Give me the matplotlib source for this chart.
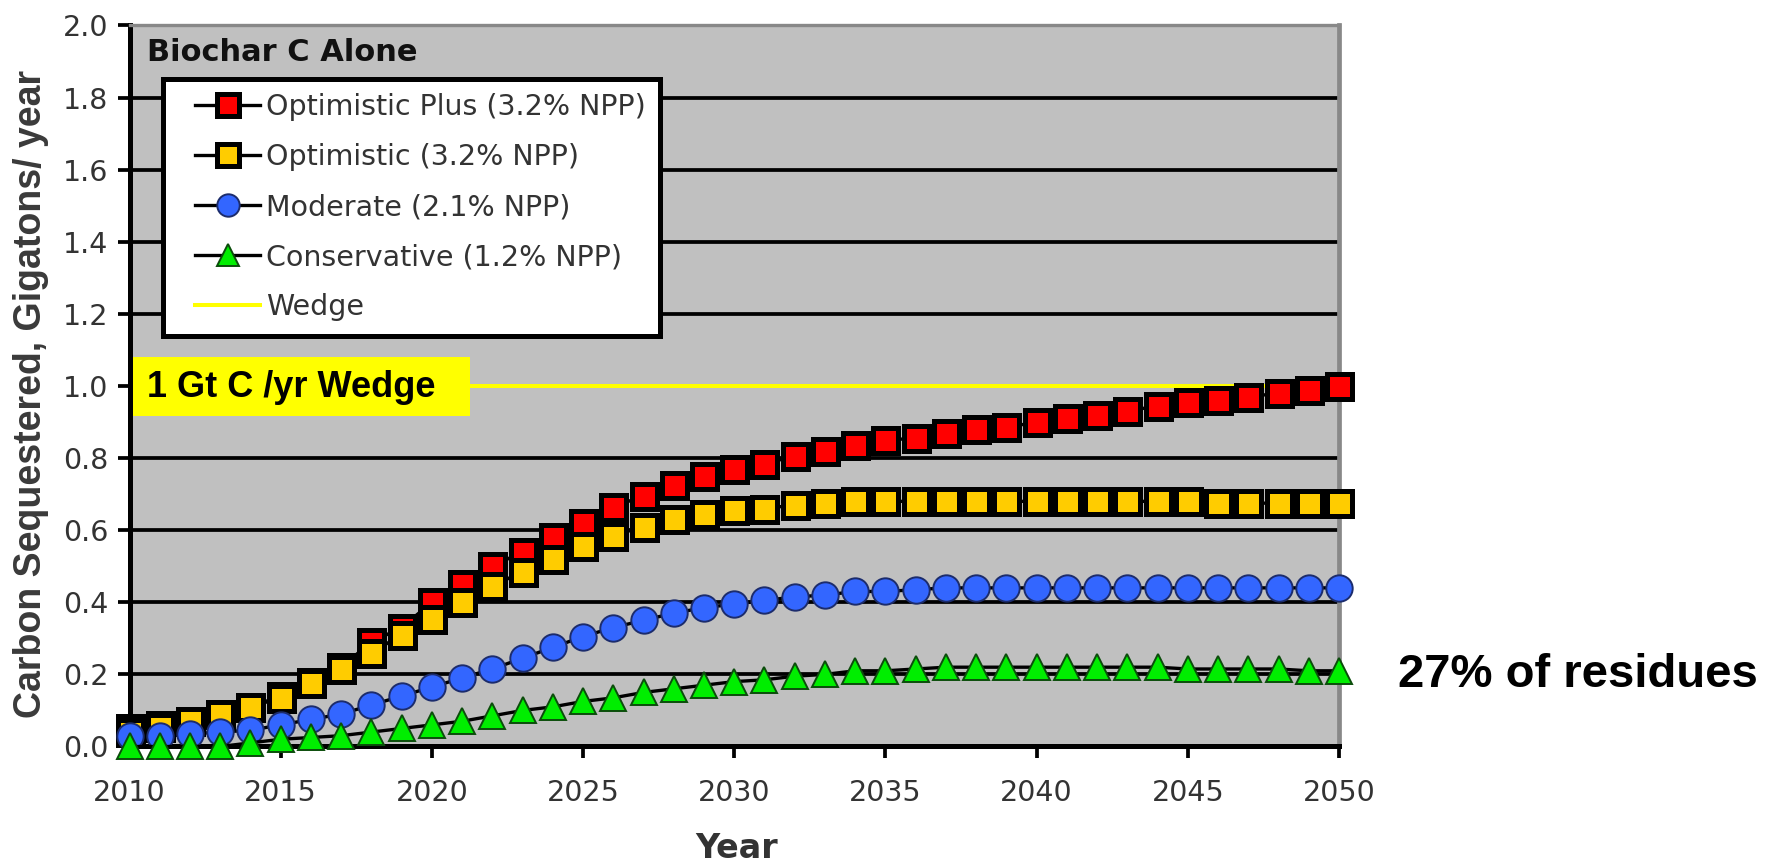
import matplotlib
matplotlib.use("Agg")
import matplotlib.pyplot as plt
from matplotlib.lines import Line2D
from matplotlib.legend_handler import HandlerLine2D
from matplotlib.patches import Rectangle

# --- data --------------------------------------------------------------
years = list(range(2010, 2051))

optimistic_plus = [0.05, 0.06, 0.07, 0.09, 0.11, 0.14, 0.18, 0.22, 0.29, 0.33,
                   0.40, 0.45, 0.50, 0.54, 0.58, 0.62, 0.665, 0.695, 0.725, 0.75,
                   0.77, 0.785, 0.805, 0.82, 0.835, 0.85, 0.855, 0.87, 0.88, 0.885,
                   0.90, 0.91, 0.92, 0.93, 0.945, 0.955, 0.96, 0.97, 0.98, 0.99,
                   1.00]
optimistic = [0.04, 0.055, 0.07, 0.09, 0.11, 0.135, 0.175, 0.215, 0.26, 0.31,
              0.355, 0.40, 0.445, 0.485, 0.52, 0.555, 0.585, 0.61, 0.63, 0.645,
              0.655, 0.66, 0.67, 0.675, 0.68, 0.68, 0.68, 0.68, 0.68, 0.68,
              0.68, 0.68, 0.68, 0.68, 0.68, 0.68, 0.675, 0.675, 0.675, 0.675,
              0.675]
moderate = [0.03, 0.03, 0.035, 0.04, 0.045, 0.06, 0.075, 0.09, 0.115, 0.14,
            0.165, 0.19, 0.215, 0.245, 0.275, 0.305, 0.33, 0.35, 0.37, 0.385,
            0.395, 0.405, 0.415, 0.42, 0.43, 0.43, 0.435, 0.44, 0.44, 0.44,
            0.44, 0.44, 0.44, 0.44, 0.44, 0.44, 0.44, 0.44, 0.44, 0.44,
            0.44]
conservative = [0.0, 0.0, 0.0, 0.0, 0.01, 0.02, 0.025, 0.03, 0.04, 0.05,
                0.06, 0.07, 0.085, 0.10, 0.11, 0.125, 0.135, 0.15, 0.16, 0.17,
                0.18, 0.185, 0.195, 0.20, 0.21, 0.21, 0.215, 0.22, 0.22, 0.22,
                0.22, 0.22, 0.22, 0.22, 0.22, 0.215, 0.215, 0.215, 0.215, 0.21,
                0.21]
wedge_level = 1.0

series_labels = ["Optimistic Plus (3.2% NPP)", "Optimistic (3.2% NPP)",
                 "Moderate (2.1% NPP)", "Conservative (1.2% NPP)"]
y_ticks = [0.0, 0.2, 0.4, 0.6, 0.8, 1.0, 1.2, 1.4, 1.6, 1.8, 2.0]
x_ticks = [2010, 2015, 2020, 2025, 2030, 2035, 2040, 2045, 2050]

# --- styles -------------------------------------------------------------
styles = [
    dict(marker="s", ms=18, mfc="#FF0000", mec="black", mew=3.6),
    dict(marker="s", ms=18, mfc="#FFCC00", mec="black", mew=3.6),
    dict(marker="o", ms=19, mfc="#3366FF", mec="#1c2c6c", mew=1.4),
    dict(marker="^", ms=19, mfc="#00EE00", mec="#0b4d0b", mew=1.4),
]
TEXT_GRAY = "#333333"

plt.rcParams["font.family"] = ["DejaVu Sans"]

fig = plt.figure(figsize=(17.84, 8.64), dpi=100, facecolor="white")
ax = fig.add_axes([0.07259, 0.1360, 0.67797, 0.8345])
ax.set_facecolor("#C0C0C0")
ax.set_xlim(2010, 2050)
ax.set_ylim(0, 2.0)

# gridlines + spines
ax.set_axisbelow(True)
ax.grid(axis="y", color="black", linewidth=2.7)
ax.grid(axis="x", visible=False)
for side in ["left", "bottom"]:
    ax.spines[side].set_color("black")
    ax.spines[side].set_linewidth(3.6)
ax.spines["top"].set_color("#888888")
ax.spines["top"].set_linewidth(2.4)
ax.spines["right"].set_color("#888888")
ax.spines["right"].set_linewidth(3.4)

ax.set_yticks(y_ticks)
ax.set_yticklabels([f"{v:.1f}" for v in y_ticks])
ax.set_xticks(x_ticks)
ax.set_xticklabels([str(v) for v in x_ticks])
ax.tick_params(axis="y", direction="out", length=8.3, width=2.7, pad=6.7,
               labelsize=20.5, labelcolor=TEXT_GRAY)
ax.tick_params(axis="x", direction="out", length=8.6, width=2.7, pad=14.5,
               labelsize=20.5, labelcolor=TEXT_GRAY)
ax.get_ygridlines()[-1].set_visible(False)

# wedge line and its label box
wedge_line = ax.axhline(wedge_level, color="#FFFF00", linewidth=2.9, zorder=2.1,
                        label="Wedge")
ax.add_patch(Rectangle((2010, 0.9168), 11.26, 0.1645, facecolor="#FFFF00",
                       edgecolor="none", zorder=2.2))
ax.text(2010.57, 0.9703, "1 Gt C /yr Wedge", fontfamily="Liberation Sans",
        fontweight="bold", fontsize=26, color="black", va="baseline",
        ha="left", zorder=2.3)

# scenario series
lines = []
for i, (vals, lab, st) in enumerate(zip(
        [optimistic_plus, optimistic, moderate, conservative], series_labels, styles)):
    ln, = ax.plot(years, vals, color="black", linewidth=2.4, label=lab,
                  clip_on=False, zorder=3 + i, **st)
    lines.append(ln)

ax.text(0.01447, 0.9512, "Biochar C Alone", transform=ax.transAxes,
        fontsize=22, fontweight="bold", color="#111111", ha="left", va="baseline")

leg = ax.legend(handles=lines + [wedge_line], loc="upper left",
                bbox_to_anchor=(163 / 1784, 1 - 78.5 / 864),
                bbox_transform=fig.transFigure, borderaxespad=0,
                fontsize=20.5, frameon=True, fancybox=False, framealpha=1,
                facecolor="white", edgecolor="black",
                borderpad=0.52, labelspacing=0.77, handlelength=2.9,
                handletextpad=0.19, markerscale=0.85,
                handler_map={Line2D: HandlerLine2D(xpad=0.62)})
leg.get_frame().set_linewidth(3.6)
for t in leg.get_texts():
    t.set_color(TEXT_GRAY)
leg.set_zorder(10)

ax.set_ylabel("Carbon Sequestered, Gigatons/ year", fontfamily="Liberation Sans",
              fontweight="bold", fontsize=27, color="#3a3a3a")
ax.yaxis.set_label_coords(-0.0666, 0.4889)
ax.set_xlabel("Year", fontsize=24, fontweight="bold", color=TEXT_GRAY)
ax.xaxis.set_label_coords(0.5016, -0.1553)
ax.xaxis.label.set_va("baseline")

fig.text(0.7836, 0.2054, "27% of residues", fontfamily="Liberation Sans",
         fontweight="bold", fontsize=34, color="black", ha="left", va="baseline")

fig.savefig("out.png", dpi=100, facecolor="white")
